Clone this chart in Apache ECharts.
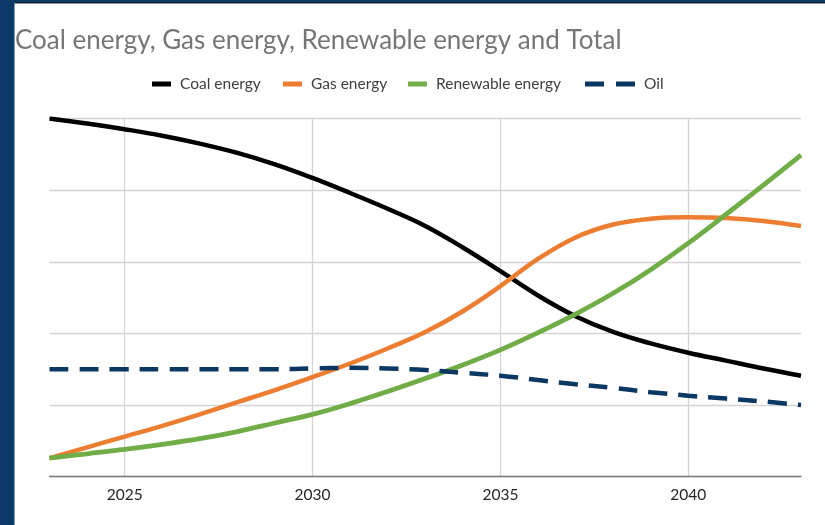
<!DOCTYPE html>
<html>
<head>
<meta charset="utf-8">
<script src="https://cdn.jsdelivr.net/npm/echarts@6/dist/echarts.min.js"></script>
<style>
  html, body { margin: 0; padding: 0; background: #ffffff; }
  #chart { width: 825px; height: 525px; }
</style>
</head>
<body>
<div id="chart"></div>
<script>
// ---- data ----
const years = [2023, 2024, 2025, 2026, 2027, 2028, 2029, 2030, 2031, 2032, 2033,
               2034, 2035, 2036, 2037, 2038, 2039, 2040, 2041, 2042, 2043];
const coalEnergy = [5.00, 4.93, 4.85, 4.76, 4.65, 4.52, 4.36, 4.17, 3.96, 3.74, 3.50,
                    3.20, 2.87, 2.53, 2.24, 2.02, 1.86, 1.73, 1.62, 1.51, 1.41];
const gasEnergy = [0.26, 0.41, 0.56, 0.71, 0.87, 1.04, 1.21, 1.39, 1.58, 1.79, 2.02,
                   2.31, 2.66, 3.04, 3.34, 3.52, 3.60, 3.62, 3.61, 3.57, 3.50];
const renewableEnergy = [0.26, 0.32, 0.38, 0.45, 0.53, 0.63, 0.75, 0.87, 1.02, 1.19, 1.37,
                         1.56, 1.77, 2.01, 2.27, 2.56, 2.89, 3.26, 3.66, 4.07, 4.49];
const oil = [1.50, 1.50, 1.50, 1.50, 1.50, 1.50, 1.50, 1.51, 1.52, 1.51, 1.49,
             1.45, 1.41, 1.35, 1.29, 1.24, 1.18, 1.13, 1.09, 1.05, 1.00];
const labeledYears = [2025, 2030, 2035, 2040];
const titleText = 'Coal energy, Gas energy, Renewable energy and Total';
const seriesNames = ['Coal energy', 'Gas energy', 'Renewable energy', 'Oil'];

const FONT = 'Lato';
const colors = ['#000000', '#ed7d31', '#70ad47', '#0b3763'];

const chart = echarts.init(document.getElementById('chart'), null, { renderer: 'canvas' });

const legendBase = {
  top: 76,
  padding: 0,
  itemWidth: 19,
  itemHeight: 5,
  icon: 'rect',
  textStyle: { fontFamily: FONT, fontSize: 15.5, color: '#404040', padding: [0, 0, 0, 4] }
};

const option = {
  backgroundColor: '#ffffff',
  animation: false,
  title: {
    text: titleText,
    left: 10,
    top: 23,
    textStyle: { fontFamily: FONT, fontSize: 26, fontWeight: 'normal', color: '#767676' }
  },
  legend: [
    Object.assign({}, legendBase, { left: 152, data: [seriesNames[0]] }),
    Object.assign({}, legendBase, { left: 283, data: [seriesNames[1]] }),
    Object.assign({}, legendBase, { left: 408, data: [seriesNames[2]] }),
    Object.assign({}, legendBase, {
      left: 585, itemWidth: 50,
      data: [{ name: seriesNames[3], icon: 'path://M0,0H19V5H0Z M31,0H50V5H31Z' }]
    })
  ],
  graphic: [
    { type: 'rect', left: 0, top: 0, shape: { width: 14.5, height: 525 }, style: { fill: '#0b3a68' }, z: 100 },
    { type: 'rect', left: 0, top: 0, shape: { width: 825, height: 2 }, style: { fill: '#0b3a68' }, z: 100 },
    { type: 'rect', left: 14.5, top: 2, shape: { width: 810.5, height: 1.5 }, style: { fill: '#14202e' }, z: 100 }
  ],
  grid: { left: 49.5, right: 24, top: 118.5, bottom: 48.3, containLabel: false },
  xAxis: {
    type: 'category',
    data: years,
    boundaryGap: false,
    axisLine: { show: true, lineStyle: { color: '#7a7a7a', width: 1.3 } },
    axisTick: { show: false },
    axisLabel: {
      interval: (i, v) => labeledYears.indexOf(Number(v)) >= 0,
      fontFamily: FONT, fontSize: 15.5, color: '#262626', margin: 10
    },
    splitLine: {
      show: true,
      interval: (i, v) => labeledYears.indexOf(Number(v)) >= 0,
      lineStyle: { color: '#d4d4d4', width: 1.3 }
    }
  },
  yAxis: {
    type: 'value',
    min: 0, max: 5, interval: 1,
    axisLine: { show: false },
    axisTick: { show: false },
    axisLabel: { show: false },
    splitLine: { show: true, lineStyle: { color: '#d4d4d4', width: 1.3 } }
  },
  series: [
    { name: seriesNames[0], type: 'line', data: coalEnergy, smooth: 0.4, symbol: 'none',
      itemStyle: { color: colors[0] }, lineStyle: { color: colors[0], width: 4.5 } },
    { name: seriesNames[1], type: 'line', data: gasEnergy, smooth: 0.4, symbol: 'none',
      itemStyle: { color: colors[1] }, lineStyle: { color: colors[1], width: 4.5 } },
    { name: seriesNames[2], type: 'line', data: renewableEnergy, smooth: 0.4, symbol: 'none',
      itemStyle: { color: colors[2] }, lineStyle: { color: colors[2], width: 4.8 } },
    { name: seriesNames[3], type: 'line', data: oil, smooth: 0.4, symbol: 'none',
      itemStyle: { color: colors[3] }, lineStyle: { color: colors[3], width: 4.5, type: [19, 11] } }
  ]
};
chart.setOption(option);
</script>
</body>
</html>
